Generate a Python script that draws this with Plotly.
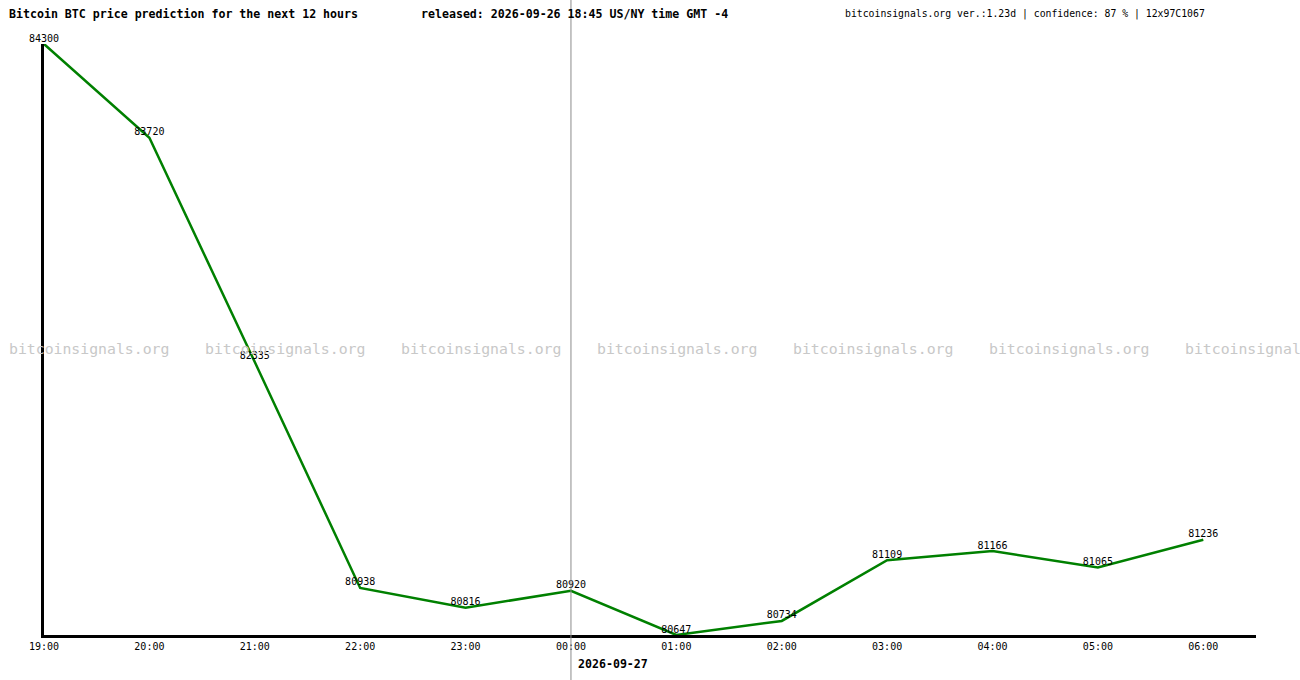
import plotly.graph_objects as go

# datos
horas = ["19:00", "20:00", "21:00", "22:00", "23:00", "00:00",
         "01:00", "02:00", "03:00", "04:00", "05:00", "06:00"]
precios = [84300, 83720, 82335, 80938, 80816, 80920,
           80647, 80734, 81109, 81166, 81065, 81236]

titulo = "Bitcoin BTC price prediction for the next 12 hours"
publicado = "released: 2026-09-26 18:45 US/NY time GMT -4"
info = "bitcoinsignals.org ver.:1.23d | confidence: 87 % | 12x97C1067"
marca = "bitcoinsignals.org"
fecha_nueva = "2026-09-27"
hora_cambio = "00:00"

W, H = 1300, 680
L, R, T, B = 44, 44, 44, 45
MONO = "DejaVu Sans Mono"


def px_x(px):
    return (px - L) / (W - L - R)


def px_y(py):
    return (H - B - py) / (H - T - B)


fig = go.Figure()

fig.add_trace(go.Scatter(
    x=horas,
    y=precios,
    mode='lines+text',
    text=[str(p) for p in precios],
    textposition='top center',
    textfont=dict(family=MONO, size=10, color='black'),
    line=dict(color='#008000', width=2.5),
    cliponaxis=False,
    hoverinfo='skip',
))

anotaciones = [
    dict(text=f"<b>{titulo}</b>", x=px_x(7), y=px_y(14), font=dict(size=11.6)),
    dict(text=f"<b>{publicado}</b>", x=px_x(419), y=px_y(14), font=dict(size=11.6)),
    dict(text=info, x=px_x(843), y=px_y(14), font=dict(size=9.8)),
]

# marca de agua repetida
for i in range(7):
    anotaciones.append(dict(text=marca, x=px_x(7 + 196 * i), y=px_y(348),
                            font=dict(size=14.8, color='#c8c8c8')))

for a in anotaciones:
    a.update(xref='paper', yref='paper', xanchor='left', yanchor='middle',
             showarrow=False)
    a['font'] = dict(family=MONO, color=a['font'].get('color', 'black'),
                     size=a['font']['size'])

anotaciones.append(dict(
    text=f"<b>{fecha_nueva}</b>", x=hora_cambio, xref='x', y=px_y(664), yref='paper',
    xanchor='left', yanchor='middle', xshift=5, showarrow=False,
    font=dict(family=MONO, size=11.6, color='black'),
))

fig.update_layout(
    width=W,
    height=H,
    margin=dict(l=L, r=R, t=T, b=B),
    paper_bgcolor='white',
    plot_bgcolor='white',
    showlegend=False,
    annotations=anotaciones,
    shapes=[dict(
        type='line', xref='x', yref='paper', x0=hora_cambio, x1=hora_cambio,
        y0=-B / (H - T - B), y1=(H - B) / (H - T - B),
        line=dict(color='#8c8c8c', width=1), layer='above',
    )],
    xaxis=dict(
        type='category',
        range=[0, 11.5],
        showgrid=False,
        zeroline=False,
        showline=True,
        linecolor='black',
        linewidth=3,
        ticks='',
        tickfont=dict(family=MONO, size=10, color='black'),
        fixedrange=True,
    ),
    yaxis=dict(
        range=[min(precios), max(precios)],
        showgrid=False,
        zeroline=False,
        showline=True,
        linecolor='black',
        linewidth=3,
        showticklabels=False,
        ticks='',
        fixedrange=True,
    ),
)

fig.write_html("out.html", config=dict(displayModeBar=False),
               post_script="document.body.style.margin='0';")
